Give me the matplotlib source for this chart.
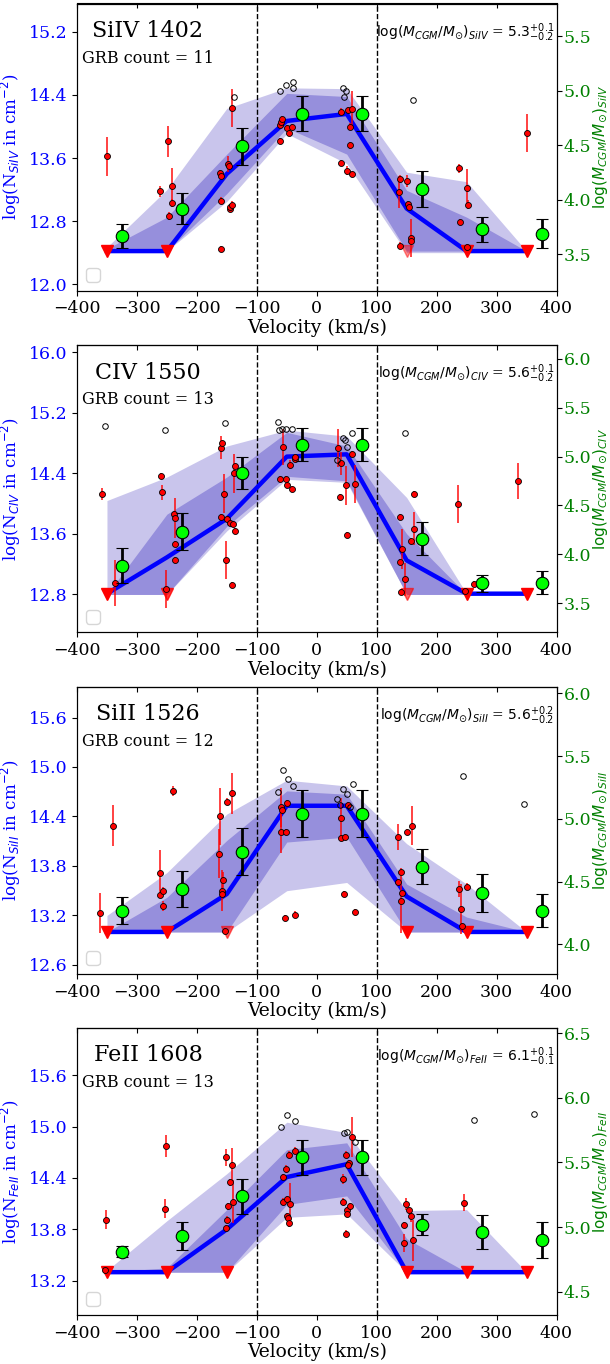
import numpy as np
import matplotlib
matplotlib.use("Agg")
import matplotlib.pyplot as plt

plt.rcParams["font.family"] = "serif"
plt.rcParams["font.size"] = 12.5

# common velocity grid (km/s)
vel_grid = [-350, -250, -150, -50, 50, 150, 250, 350]
vel_green = [-325, -225, -125, -25, 75, 175, 275, 375]

ions = ["SiIV 1402", "CIV 1550", "SiII 1526", "FeII 1608"]
ion_sub = ["SiIV", "CIV", "SiII", "FeII"]
grb_count = [11, 13, 12, 13]
mass_val = ["5.3", "5.6", "5.6", "6.1"]
mass_up = ["0.1", "0.1", "0.2", "0.1"]
mass_lo = ["0.2", "0.2", "0.2", "0.1"]

# ---- SiIV 1402
median_1 = [12.42, 12.42, 13.40, 14.07, 14.16, 12.96, 12.42, 12.42]
light_hi_1 = [12.47, 13.20, 14.23, 14.49, 14.48, 13.42, 13.30, 12.42]
light_lo_1 = [12.42, 12.42, 13.05, 13.91, 13.53, 12.40, 12.40, 12.42]
dark_hi_1 = [12.45, 12.85, 13.65, 14.42, 14.38, 13.19, 12.85, 12.42]
dark_lo_1 = [12.42, 12.42, 13.15, 13.98, 13.65, 12.42, 12.42, 12.42]
tri_v_1 = [-350, -250, 150, 250, 350]
tri_a_1 = [1, 1, 0.45, 1, 1]
red_v_1 = [-350, -262, -249, -247, -242, -242, -161, -160, -159, -160, -148, -146, -145, -144, -141,
           -141, -61, -62, -60, -58, -50, -46, -42, 40, 52, 59, 40, 51, 59, 55, 56, 139, 138, 151,
           152, 154, 158, 158, 139, 238, 251, 253, 239, 251, 350]
red_n_1 = [13.62, 13.18, 13.81, 12.87, 13.24, 13.03, 13.41, 13.37, 13.06, 12.45, 13.52, 13.50, 12.95,
           12.98, 13.01, 14.24, 13.82, 14.02, 14.06, 14.09, 13.98, 13.92, 13.99, 14.19, 14.21, 14.22,
           13.54, 13.44, 13.40, 13.76, 14.00, 13.34, 13.17, 13.31, 13.02, 12.98, 12.59, 12.55, 12.49,
           13.47, 13.22, 13.01, 12.79, 12.47, 13.92]
red_e_1 = [0.25, 0.07, 0.20, 0.05, 0.23, 0.05, 0.04, 0.04, 0.04, 0.04, 0.10, 0.04, 0.04, 0.04, 0.04,
           0.24, 0.04, 0.04, 0.04, 0.04, 0.04, 0.04, 0.04, 0.04, 0.04, 0.23, 0.04, 0.06, 0.04, 0.04,
           0.04, 0.05, 0.20, 0.08, 0.04, 0.04, 0.24, 0.04, 0.04, 0.06, 0.24, 0.06, 0.04, 0.04, 0.24]
open_v_1 = [-61, -51, -39, -39, -138, 43, 48, 46, 161]
open_n_1 = [14.45, 14.53, 14.57, 14.49, 14.37, 14.49, 14.45, 14.38, 14.33]
green_m_1 = [3.67, 3.92, 4.49, 4.79, 4.79, 4.10, 3.73, 3.69]
green_e_1 = [0.11, 0.14, 0.17, 0.16, 0.16, 0.165, 0.115, 0.135]

# ---- CIV 1550
median_2 = [12.81, 13.29, 13.80, 14.62, 14.65, 13.25, 12.81, 12.81]
light_hi_2 = [14.04, 14.35, 14.76, 14.97, 14.89, 14.08, 12.81, 12.81]
light_lo_2 = [12.80, 12.80, 13.64, 14.32, 14.28, 12.80, 12.80, 12.80]
dark_hi_2 = [12.80, 13.86, 14.35, 14.94, 14.76, 13.60, 12.80, 12.80]
dark_lo_2 = [12.80, 12.80, 13.70, 14.36, 14.30, 12.80, 12.80, 12.80]
tri_v_2 = [-350, -250, 150, 250, 350]
tri_a_2 = [1, 0.8, 0.6, 1, 1]
red_v_2 = [-358, -337, -260, -259, -251, -238, -237, -236, -236, -160, -158, -155, -160, -150, -145,
           -139, -136, -138, -136, -152, -141, -56, -61, -52, -50, -45, -42, -37, -37, 36, 41, 39,
           48, 50, 58, 63, 139, 143, 139, 141, 147, 162, 163, 158, 236, 248, 262, 336]
red_n_2 = [14.13, 12.95, 14.36, 14.15, 12.87, 13.86, 13.81, 13.47, 13.26, 14.74, 14.80, 14.13, 13.82,
           13.79, 13.74, 13.73, 13.64, 14.40, 14.49, 13.26, 12.93, 14.75, 14.32, 14.33, 14.25, 14.51,
           14.19, 14.59, 14.62, 14.73, 14.53, 14.09, 14.24, 13.59, 14.66, 14.26, 13.82, 13.40, 13.23,
           12.83, 13.00, 14.13, 13.67, 13.50, 13.99, 12.84, 12.94, 14.30]
red_e_2 = [0.08, 0.30, 0.04, 0.10, 0.25, 0.04, 0.27, 0.04, 0.04, 0.15, 0.04, 0.26, 0.04, 0.04, 0.04,
           0.04, 0.04, 0.26, 0.04, 0.25, 0.04, 0.24, 0.04, 0.04, 0.04, 0.06, 0.04, 0.04, 0.04, 0.25,
           0.15, 0.04, 0.26, 0.04, 0.04, 0.25, 0.04, 0.26, 0.04, 0.04, 0.22, 0.04, 0.22, 0.04, 0.25,
           0.04, 0.04, 0.24]
open_v_2 = [-354, -253, -153, -65, -63, -58, -52, -41, 34, 43, 47, 51, 58, 147]
open_n_2 = [15.02, 14.97, 15.07, 15.08, 14.97, 14.98, 14.99, 14.98, 14.58, 14.86, 14.84, 14.75, 14.93, 14.93]
green_m_2 = [3.88, 4.23, 4.83, 5.12, 5.12, 4.16, 3.70, 3.71]
green_e_2 = [0.18, 0.19, 0.165, 0.17, 0.17, 0.173, 0.085, 0.115]

# ---- SiII 1526
median_3 = [13.0, 13.0, 13.46, 14.53, 14.53, 13.43, 13.0, 13.0]
light_hi_3 = [13.20, 13.72, 14.43, 14.84, 14.77, 14.07, 13.58, 13.0]
light_lo_3 = [13.0, 13.0, 13.0, 13.50, 13.60, 13.0, 13.0, 13.0]
dark_hi_3 = [13.0, 13.42, 14.11, 14.71, 14.67, 13.58, 13.18, 13.0]
dark_lo_3 = [13.0, 13.0, 13.0, 14.09, 14.15, 13.0, 13.0, 13.0]
tri_v_3 = [-350, -250, -150, 150, 250, 350]
tri_a_3 = [1, 1, 0.6, 1, 1, 1]
red_v_3 = [-362, -340, -262, -262, -256, -256, -240, -162, -163, -158, -157, -158, -149, -141, -153,
           -59, -58, -59, -52, -49, -53, -37, 41, 41, 47, 52, 46, 63, 136, 141, 136, 142, 141, 150,
           159, 238, 250, 240, 242]
red_n_3 = [13.23, 14.29, 13.72, 13.45, 13.50, 13.31, 14.71, 14.40, 13.95, 13.50, 13.63, 13.46, 14.58,
           14.68, 13.01, 14.51, 14.48, 14.21, 14.21, 14.56, 13.17, 13.21, 14.38, 14.14, 14.15, 14.54,
           13.46, 13.24, 14.15, 13.73, 13.60, 13.47, 13.37, 14.21, 14.29, 13.52, 13.55, 13.28, 13.07]
red_e_3 = [0.24, 0.25, 0.27, 0.04, 0.04, 0.06, 0.06, 0.35, 0.30, 0.25, 0.10, 0.04, 0.04, 0.25, 0.04,
           0.24, 0.04, 0.25, 0.04, 0.04, 0.04, 0.04, 0.25, 0.04, 0.04, 0.04, 0.04, 0.04, 0.16, 0.04,
           0.04, 0.04, 0.38, 0.04, 0.24, 0.10, 0.04, 0.30, 0.04]
open_v_3 = [-56, -48, -40, -65, 34, 38, 44, 51, 55, 60, 244, 345]
open_n_3 = [14.96, 14.86, 14.77, 14.70, 14.61, 14.54, 14.73, 14.67, 14.51, 14.79, 14.89, 14.55]
green_m_3 = [4.27, 4.44, 4.74, 5.04, 5.04, 4.62, 4.41, 4.27]
green_e_3 = [0.105, 0.143, 0.185, 0.188, 0.188, 0.14, 0.155, 0.13]

# ---- FeII 1608
median_4 = [13.3, 13.3, 13.80, 14.41, 14.56, 13.3, 13.3, 13.3]
light_hi_4 = [13.32, 13.90, 14.45, 15.05, 14.93, 14.02, 14.03, 13.3]
light_lo_4 = [13.3, 13.3, 13.3, 13.94, 13.98, 13.3, 13.3, 13.3]
dark_hi_4 = [13.3, 13.35, 14.03, 14.73, 14.81, 13.69, 13.3, 13.3]
dark_lo_4 = [13.3, 13.3, 13.3, 14.09, 14.19, 13.3, 13.3, 13.3]
tri_v_4 = [-350, -250, -150, 150, 250, 350]
tri_a_4 = [1, 1, 1, 1, 1, 1]
red_v_4 = [-352, -354, -251, -253, -151, -141, -144, -148, -139, -150, -152, -56, -52, -46, -37, -56,
           -50, -44, -49, -48, -47, 43, 48, 53, 52, 58, 44, 51, 51, 55, 49, 149, 146, 145, 154, 158,
           160, 246]
red_n_4 = [13.91, 13.32, 14.77, 14.04, 14.64, 14.55, 14.35, 14.07, 14.12, 13.91, 13.81, 14.41, 14.51,
           14.67, 14.72, 14.12, 14.15, 14.10, 13.95, 13.93, 13.87, 14.39, 14.67, 14.57, 14.55, 14.88,
           14.12, 14.02, 13.98, 14.07, 13.75, 14.10, 13.85, 13.64, 14.02, 13.96, 13.67, 14.11]
red_e_4 = [0.11, 0.04, 0.13, 0.11, 0.10, 0.20, 0.04, 0.04, 0.25, 0.04, 0.04, 0.04, 0.04, 0.04, 0.04,
           0.04, 0.04, 0.24, 0.04, 0.04, 0.04, 0.06, 0.04, 0.04, 0.04, 0.23, 0.04, 0.04, 0.04, 0.04,
           0.04, 0.07, 0.04, 0.10, 0.04, 0.08, 0.24, 0.10]
open_v_4 = [-59, -49, -37, 46, 50, 63, 262, 363]
open_n_4 = [14.99, 15.13, 15.07, 14.92, 14.94, 14.82, 15.08, 15.15]
green_m_4 = [4.81, 4.93, 5.24, 5.54, 5.54, 5.02, 4.96, 4.90]
green_e_4 = [0.045, 0.11, 0.135, 0.135, 0.135, 0.085, 0.133, 0.14]

# axis ranges / ticks
ylim_left = [(11.92, 15.56), (12.30, 16.09), (12.49, 15.97), (12.80, 16.15)]
ylim_right = [(3.17, 5.80), (3.20, 6.14), (3.765, 6.05), (4.32, 6.54)]
yticks_left = [[12.0, 12.8, 13.6, 14.4, 15.2], [12.8, 13.6, 14.4, 15.2, 16.0],
               [12.6, 13.2, 13.8, 14.4, 15.0, 15.6], [13.2, 13.8, 14.4, 15.0, 15.6]]

panels = [
    (median_1, light_hi_1, light_lo_1, dark_hi_1, dark_lo_1, tri_v_1, tri_a_1, red_v_1, red_n_1, red_e_1,
     open_v_1, open_n_1, green_m_1, green_e_1),
    (median_2, light_hi_2, light_lo_2, dark_hi_2, dark_lo_2, tri_v_2, tri_a_2, red_v_2, red_n_2, red_e_2,
     open_v_2, open_n_2, green_m_2, green_e_2),
    (median_3, light_hi_3, light_lo_3, dark_hi_3, dark_lo_3, tri_v_3, tri_a_3, red_v_3, red_n_3, red_e_3,
     open_v_3, open_n_3, green_m_3, green_e_3),
    (median_4, light_hi_4, light_lo_4, dark_hi_4, dark_lo_4, tri_v_4, tri_a_4, red_v_4, red_n_4, red_e_4,
     open_v_4, open_n_4, green_m_4, green_e_4),
]

W, H = 610, 1364
fig = plt.figure(figsize=(W / 100, H / 100), dpi=100)
ax_left, ax_right = 77, 556.5
bottoms = [290.5, 632.3, 974, 1315]
ax_h = 287

for i, (med, lhi, llo, dhi, dlo, tv, ta, rv, rn, re, ov, on, gm, ge) in enumerate(panels):
    rect = [ax_left / W, 1 - bottoms[i] / H, (ax_right - ax_left) / W, ax_h / H]
    ax = fig.add_axes(rect)
    base = med[0]

    ax.fill_between(vel_grid, llo, lhi, color="#c9c5ec", lw=0, zorder=1)
    ax.fill_between(vel_grid, dlo, dhi, color="#968fdc", lw=0, zorder=1.5)
    ax.plot(vel_grid, med, color="blue", lw=3.2, zorder=3)
    for v, a in zip(tv, ta):
        ax.plot(v, base, marker="v", color="red", ms=9, ls="none", alpha=a, zorder=4)
    ax.errorbar(rv, rn, yerr=re, fmt="none", ecolor="red", elinewidth=1.3, alpha=0.8, zorder=4)
    ax.plot(rv, rn, "o", mfc="red", mec="black", mew=0.6, ms=4.3, ls="none", zorder=5)
    ax.plot(ov, on, "o", mfc="none", mec="black", mew=0.7, ms=4, ls="none", zorder=5)
    ax.axvline(-100, color="black", ls="--", lw=1, zorder=2)
    ax.axvline(100, color="black", ls="--", lw=1, zorder=2)

    ax.set_xlim(-400, 400)
    ax.set_ylim(*ylim_left[i])
    ax.set_xticks(range(-400, 401, 100))
    ax.set_yticks(yticks_left[i])
    ax.tick_params(axis="y", labelcolor="blue", labelsize=12.5)
    ax.tick_params(axis="x", labelsize=12.5)
    top = ax.secondary_xaxis("top")
    top.set_xticks(range(-400, 401, 100))
    top.tick_params(direction="in", labeltop=False)
    ax.set_xlabel("Velocity (km/s)", fontsize=13.5, labelpad=1)
    ax.set_ylabel(r"log(N$_{%s}$ in cm$^{-2}$)" % ion_sub[i], color="blue", fontsize=12, labelpad=4)

    ax.text(0.148, 0.905, ions[i], transform=ax.transAxes, ha="center", va="center", fontsize=16)
    ax.text(0.148, 0.81, "GRB count = %d" % grb_count[i], transform=ax.transAxes,
            ha="center", va="center", fontsize=11.5)
    ax.text(0.996, 0.90, r"$\log(M_{CGM}/M_{\odot})_{%s}$ = $%s^{+%s}_{-%s}$"
            % (ion_sub[i], mass_val[i], mass_up[i], mass_lo[i]),
            transform=ax.transAxes, ha="right", va="center", fontsize=10)
    ax.legend(handles=[], loc="lower left")

    ax2 = ax.twinx()
    ax2.errorbar(vel_green, gm, yerr=ge, fmt="o", color="black", mfc="lime", mec="black",
                 ms=9, mew=0.8, elinewidth=2, capsize=4, capthick=2, zorder=6)
    ax2.set_ylim(*ylim_right[i])
    ax2.tick_params(axis="y", labelcolor="green", labelsize=12.5, pad=1.5)
    ax2.set_ylabel(r"$\log(M_{CGM}/M_{\odot})_{%s}$" % ion_sub[i], color="green", fontsize=11)
    ax2.yaxis.set_label_coords(1.073, 0.5)

fig.savefig("out.png", dpi=100)
